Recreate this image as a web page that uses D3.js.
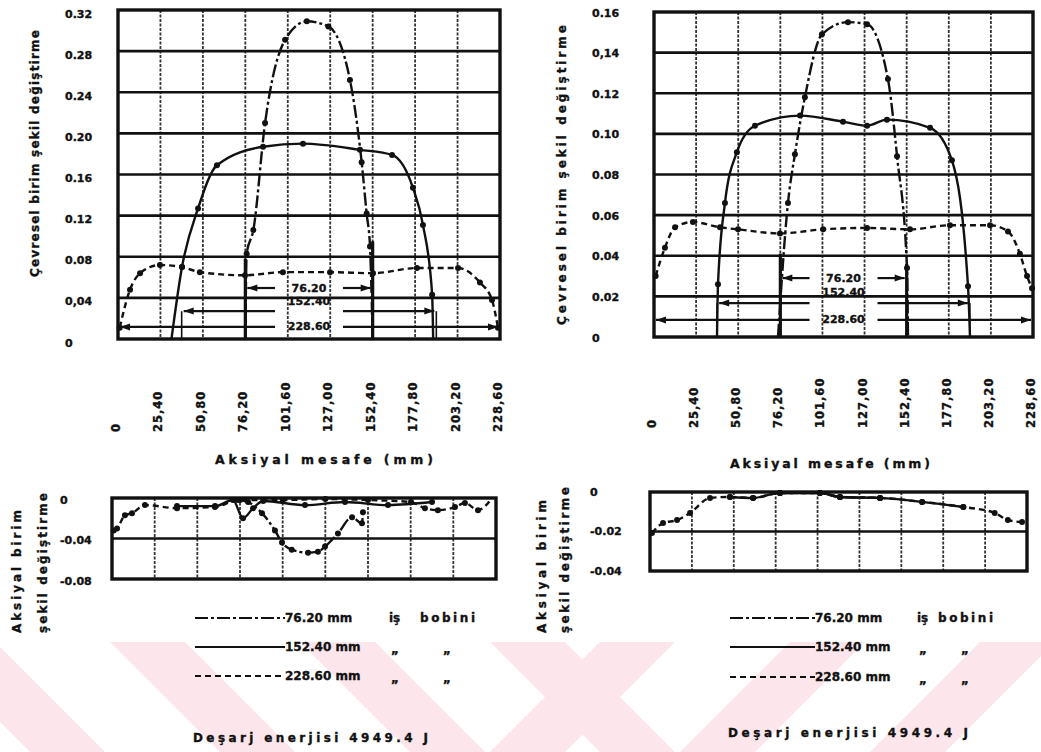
<!DOCTYPE html>
<html>
<head>
<meta charset="utf-8">
<script src="https://cdn.jsdelivr.net/npm/d3@7/dist/d3.min.js"></script>
<style>
  html, body { margin: 0; padding: 0; background: #fff; }
  svg { display: block; font-family: "DejaVu Sans", sans-serif; font-weight: bold; }
  svg text { stroke: #111; stroke-width: 0.35px; }
</style>
</head>
<body>
<svg id="chart" width="1041" height="752"></svg>
<script>
// Axial position (mm) ticks, shared by all four plots
const X_TICKS = [0, 25.4, 50.8, 76.2, 101.6, 127.0, 152.4, 177.8, 203.2, 228.6]
const X_TICK_LABELS = ["0", "25,40", "50,80", "76,20", "101,60", "127,00", "152,40", "177,80", "203,20", "228,60"]

// Work coil lengths and the span they cover along the tube
const COILS = ["76.20", "152.40", "228.60"]
const COIL_SPANS = [[76.2, 152.4], [38.1, 190.5], [0, 228.6]]

const LEFT_CIRC_TICKS = [0, 0.04, 0.08, 0.12, 0.16, 0.20, 0.24, 0.28, 0.32]
const LEFT_CIRC_LABELS = ["0", "0,04", "0.08", "0.12", "0.16", "0.20", "0.24", "0.28", "0.32"]
const RIGHT_CIRC_TICKS = [0, 0.02, 0.04, 0.06, 0.08, 0.10, 0.12, 0.14, 0.16]
const RIGHT_CIRC_LABELS = ["0", "0.02", "0.04", "0.06", "0.08", "0.10", "0.12", "0,14", "0.16"]
const LEFT_AX_TICKS = [0, -0.04, -0.08]
const LEFT_AX_LABELS = ["0", "-0.04", "-0.08"]
const RIGHT_AX_TICKS = [0, -0.02, -0.04]
const RIGHT_AX_LABELS = ["0", "-0.02", "-0.04"]

// Circumferential strain, left figure  [mm, strain]
const leftCirc76 = [[76.2, 0], [77.0, 0.083], [81.0, 0.106], [88.0, 0.21], [100.0, 0.291], [113.0, 0.309], [125.9, 0.304], [138.8, 0.252], [145.8, 0.172], [148.8, 0.122], [150.8, 0.090], [152.4, 0]]
const leftCirc152 = [[32.0, 0], [38.3, 0.070], [47.9, 0.127], [59.2, 0.169], [86.8, 0.187], [110.7, 0.190], [144.8, 0.184], [164.0, 0.179], [176.5, 0.147], [182.5, 0.111], [188.0, 0.043], [188.6, 0]]
const leftCirc228 = [[1.0, 0.011], [7.2, 0.048], [13.2, 0.064], [25.1, 0.072], [38.3, 0.070], [49.0, 0.065], [76.0, 0.062], [98.7, 0.065], [126.9, 0.065], [152.6, 0.064], [178.9, 0.069], [203.5, 0.069], [216.6, 0.055], [223.8, 0.038], [227.4, 0.011]]

// Circumferential strain, right figure
const rightCirc76 = [[74.8, 0], [80.8, 0.066], [85.0, 0.090], [91.0, 0.118], [101.3, 0.149], [117.0, 0.155], [128.5, 0.154], [141.1, 0.127], [146.6, 0.089], [152.6, 0.034], [153.2, 0]]
const rightCirc152 = [[38.0, 0], [38.6, 0.026], [42.8, 0.066], [50.0, 0.091], [60.9, 0.104], [88.1, 0.109], [114.0, 0.106], [128.5, 0.104], [140.5, 0.107], [166.5, 0.103], [179.7, 0.087], [189.4, 0.025], [190.6, 0]]
const rightCirc228 = [[1.0, 0.030], [6.6, 0.044], [12.7, 0.054], [23.5, 0.0566], [39.8, 0.054], [50.7, 0.053], [76.0, 0.051], [102.0, 0.053], [128.5, 0.0537], [154.4, 0.053], [178.5, 0.055], [202.7, 0.055], [213.5, 0.052], [220.7, 0.041], [225.0, 0.030], [228.0, 0.024]]

// Axial strain, left figure
const leftAx76 = [[76.2, -0.002], [81.0, -0.004], [89.3, -0.015], [97.0, -0.032], [101.2, -0.044], [107.0, -0.051], [116.7, -0.054], [122.6, -0.053], [126.8, -0.048], [134.5, -0.035], [142.9, -0.019], [148.8, -0.025], [149.4, -0.014]]
const leftAx152 = [[38.7, -0.008], [61.3, -0.008], [72.0, -0.002], [78.0, -0.020], [84.0, -0.010], [90.0, -0.003], [114.9, -0.007], [138.7, -0.004], [164.3, -0.007], [190.5, -0.004]]
const leftAx228 = [[1.0, -0.032], [3.0, -0.030], [7.7, -0.017], [11.9, -0.015], [19.6, -0.007], [38.7, -0.010], [61.3, -0.009], [75.0, -0.002], [101.6, -0.002], [127.0, -0.001], [152.4, -0.002], [178.0, -0.004], [186.3, -0.010], [194.0, -0.012], [204.2, -0.009], [210.1, -0.005], [217.9, -0.012], [226.2, 0]]

// Axial strain, right figure
const rightAx76 = [[78.8, -0.0005], [103.0, -0.0005], [115.2, -0.0025], [139.5, -0.003]]
const rightAx152 = [[48.5, -0.0025], [62.5, -0.003], [78.8, -0.0005], [103.0, -0.0005], [115.2, -0.0025], [139.5, -0.003], [165.0, -0.005], [190.0, -0.0076]]
const rightAx228 = [[1.2, -0.0208], [7.9, -0.0157], [16.4, -0.0142], [24.3, -0.0106], [36.4, -0.003], [48.5, -0.0025], [62.5, -0.003], [78.8, -0.0005], [103.0, -0.0005], [115.2, -0.0025], [139.5, -0.003], [165.0, -0.005], [190.0, -0.0076], [209.0, -0.0106], [217.0, -0.0142], [225.6, -0.0152]]

const DASH = { "76.20": "13 3 3 3", "152.40": null, "228.60": "6 4" }

const svg = d3.select("#chart")

// --- pale watermark stripes at the bottom of the scanned page ---
const wm = svg.append("g")
wm.append("clipPath").attr("id", "wm-clip")
  .append("rect").attr("x", 0).attr("y", 642).attr("width", 1041).attr("height", 110)
const wmg = wm.append("g").attr("clip-path", "url(#wm-clip)")
d3.range(-1, 3).forEach(i => {
  const x0 = 110 + i * 190
  wmg.append("path")
    .attr("d", `M ${x0} 642 L ${x0 + 75} 642 L ${x0 + 185} 752 L ${x0 + 110} 752 Z`)
    .attr("fill", "#fce6eb")
})
d3.range(0, 4).forEach(i => {
  const x0 = 600 + i * 190
  wmg.append("path")
    .attr("d", `M ${x0} 642 L ${x0 + 75} 642 L ${x0 - 35} 752 L ${x0 - 110} 752 Z`)
    .attr("fill", "#fce6eb")
})

function drawPlot(cfg) {
  const g = svg.append("g")
  const x = d3.scaleLinear().domain([0, 228.6]).range(cfg.xr)
  const y = d3.scaleLinear().domain(cfg.yd).range(cfg.yr)

  // vertical grid (speckled in the scan)
  g.selectAll(null).data(X_TICKS.slice(1, -1)).join("line")
    .attr("x1", d => x(d)).attr("x2", d => x(d))
    .attr("y1", cfg.yr[1]).attr("y2", cfg.yr[0])
    .attr("stroke", "#333").attr("stroke-width", 1.8)
    .attr("stroke-dasharray", "3 1.5")

  // horizontal grid
  g.selectAll(null).data(cfg.ticks.filter(t => t !== cfg.yd[0] && t !== cfg.yd[1])).join("line")
    .attr("x1", cfg.xr[0]).attr("x2", cfg.xr[1])
    .attr("y1", d => y(d)).attr("y2", d => y(d))
    .attr("stroke", "#111").attr("stroke-width", 2.6)

  // frame
  g.append("rect")
    .attr("x", cfg.xr[0]).attr("y", cfg.yr[1])
    .attr("width", cfg.xr[1] - cfg.xr[0]).attr("height", cfg.yr[0] - cfg.yr[1])
    .attr("fill", "none").attr("stroke", "#111").attr("stroke-width", 3.4)

  // y tick labels, left aligned as in the original
  g.selectAll(null).data(cfg.ticks).join("text")
    .attr("x", cfg.labelX)
    .attr("y", d => y(d) + cfg.labelDy)
    .attr("dominant-baseline", "central")
    .attr("font-size", "11px")
    .attr("fill", "#111")
    .text((d, i) => cfg.labels[i])

  if (cfg.annot) drawCoilArrows(g, x, y, cfg.annot)

  // curves
  const line = d3.line().x(d => x(d[0])).y(d => y(d[1])).curve(d3.curveMonotoneX)
  cfg.series.forEach(s => {
    g.append("path")
      .attr("d", line(s.data))
      .attr("fill", "none")
      .attr("stroke", "#111")
      .attr("stroke-width", 2.4)
      .attr("stroke-dasharray", DASH[s.coil])
    g.selectAll(null).data(s.data.filter(d => d[1] !== 0)).join("circle")
      .attr("cx", d => x(d[0])).attr("cy", d => y(d[1]))
      .attr("r", 3).attr("fill", "#111")
  })
  return { x, y }
}

function drawCoilArrows(g, x, y, a) {
  COILS.forEach((c, i) => {
    const [s, e] = COIL_SPANS[i]
    const ly = y(a.levels[i])
    const cx = x(114.3)
    const segs = [[cx - a.gap, x(s) + 2], [cx + a.gap, x(e) - 2]]
    segs.forEach(([from, to]) => {
      g.append("line")
        .attr("x1", from).attr("x2", to).attr("y1", ly).attr("y2", ly)
        .attr("stroke", "#111").attr("stroke-width", 2.2)
      const dir = to < from ? 1 : -1
      g.append("path")
        .attr("d", `M ${to} ${ly} L ${to + dir * 10} ${ly - 3.5} L ${to + dir * 10} ${ly + 3.5} Z`)
        .attr("fill", "#111")
    })
    g.append("text")
      .attr("x", cx).attr("y", y(a.labelAt[i]))
      .attr("text-anchor", "middle").attr("dominant-baseline", "central")
      .attr("font-size", "11px").attr("fill", "#111")
      .text(c)
  })
  // coil boundary markers for the two shorter coils
  a.bounds.forEach(b => {
    g.append("line")
      .attr("x1", x(b.at)).attr("x2", x(b.at))
      .attr("y1", y(0)).attr("y2", y(b.top))
      .attr("stroke", "#111").attr("stroke-width", b.w)
  })
}

function xLabels(cfg, x) {
  const g = svg.append("g")
  g.selectAll(null).data(X_TICKS).join("text")
    .attr("transform", (d, i) => `translate(${x(d) - 2},${cfg.base}) rotate(-90)`)
    .attr("dominant-baseline", "central")
    .attr("font-size", "11.5px")
    .attr("letter-spacing", "1px")
    .attr("fill", "#111")
    .text((d, i) => X_TICK_LABELS[i])
  g.append("text")
    .attr("x", cfg.titleX[0]).attr("y", cfg.titleY)
    .attr("textLength", cfg.titleX[1] - cfg.titleX[0])
    .attr("lengthAdjust", "spacing")
    .attr("font-size", "12.5px").attr("fill", "#111")
    .text("Aksiyal  mesafe  (mm)")
}

function vTitle(xc, yBottom, len, txt, size) {
  svg.append("text")
    .attr("transform", `translate(${xc},${yBottom}) rotate(-90)`)
    .attr("dominant-baseline", "central")
    .attr("textLength", len).attr("lengthAdjust", "spacing")
    .attr("font-size", size).attr("fill", "#111")
    .text(txt)
}

function legend(lx, tx, rows, ditto, energy) {
  const g = svg.append("g")
  COILS.forEach((c, i) => {
    const ly = rows[i]
    g.append("line")
      .attr("x1", lx[0]).attr("x2", lx[1]).attr("y1", ly).attr("y2", ly)
      .attr("stroke", "#111").attr("stroke-width", 2.2)
      .attr("stroke-dasharray", DASH[c])
    g.append("text")
      .attr("x", tx).attr("y", ly).attr("dominant-baseline", "central")
      .attr("font-size", "12px").attr("fill", "#111")
      .text(c + " mm")
    if (i === 0) {
      g.append("text")
        .attr("x", ditto[0] - 6).attr("y", ly).attr("dominant-baseline", "central")
        .attr("font-size", "12px").attr("fill", "#111").text("iş")
      g.append("text")
        .attr("x", ditto[2]).attr("y", ly).attr("dominant-baseline", "central")
        .attr("textLength", ditto[3]).attr("lengthAdjust", "spacing")
        .attr("font-size", "12px").attr("fill", "#111").text("bobini")
    } else {
      [ditto[0], ditto[1]].forEach(dx => {
        g.append("text")
          .attr("x", dx).attr("y", ly + 2).attr("text-anchor", "middle")
          .attr("dominant-baseline", "central")
          .attr("font-size", "12px").attr("fill", "#111").text("„")
      })
    }
  })
  g.append("text")
    .attr("x", energy[0]).attr("y", energy[2])
    .attr("textLength", energy[1] - energy[0]).attr("lengthAdjust", "spacing")
    .attr("dominant-baseline", "central")
    .attr("font-size", "12px").attr("fill", "#111")
    .text("Deşarj  enerjisi  4949.4  J")
}

// ---------- left figure ----------
const lt = drawPlot({
  xr: [118, 500], yd: [0, 0.32], yr: [339, 10],
  ticks: LEFT_CIRC_TICKS, labels: LEFT_CIRC_LABELS, labelX: 65, labelDy: 4,
  annot: {
    levels: [0.0496, 0.0272, 0.0117], labelAt: [0.0496, 0.036, 0.0117], gap: 34,
    bounds: [{ at: 76.2, top: 0.078, w: 3.2 }, { at: 152.4, top: 0.095, w: 3.2 },
             { at: 38.1, top: 0.027, w: 1.6 }, { at: 190.5, top: 0.027, w: 1.6 }]
  },
  series: [
    { coil: "228.60", data: leftCirc228 },
    { coil: "152.40", data: leftCirc152 },
    { coil: "76.20", data: leftCirc76 }
  ]
})
xLabels({ base: 432, titleX: [215, 433], titleY: 464 }, lt.x)
vTitle(35, 277, 247, "Çevresel  birim  şekil  değiştirme", "12px")

drawPlot({
  xr: [112, 496], yd: [-0.08, 0], yr: [579, 498],
  ticks: LEFT_AX_TICKS, labels: LEFT_AX_LABELS, labelX: 60, labelDy: 2,
  series: [
    { coil: "228.60", data: leftAx228 },
    { coil: "152.40", data: leftAx152 },
    { coil: "76.20", data: leftAx76 }
  ]
})
vTitle(17, 633, 123, "Aksiyal  birim", "12px")
vTitle(43, 633, 140, "şekil  değiştirme", "12px")
legend([195, 285], 285, [618, 647, 676], [395, 447, 420, 55], [193, 428, 738])

// ---------- right figure ----------
const rt = drawPlot({
  xr: [654, 1033], yd: [0, 0.16], yr: [337, 12],
  ticks: RIGHT_CIRC_TICKS, labels: RIGHT_CIRC_LABELS, labelX: 592, labelDy: 1,
  annot: {
    levels: [0.029, 0.0167, 0.0084], labelAt: [0.029, 0.0217, 0.0084], gap: 34,
    bounds: [{ at: 76.2, top: 0.041, w: 3.2 }, { at: 152.4, top: 0.036, w: 3.2 },
             { at: 38.1, top: 0.0167, w: 1.6 }, { at: 190.5, top: 0.0167, w: 1.6 }]
  },
  series: [
    { coil: "228.60", data: rightCirc228 },
    { coil: "152.40", data: rightCirc152 },
    { coil: "76.20", data: rightCirc76 }
  ]
})
xLabels({ base: 428, titleX: [730, 930], titleY: 468 }, rt.x)
vTitle(562, 325, 300, "Çevresel  birim  şekil  değiştirme", "12px")

drawPlot({
  xr: [650, 1027], yd: [-0.04, 0], yr: [571, 492],
  ticks: RIGHT_AX_TICKS, labels: RIGHT_AX_LABELS, labelX: 590, labelDy: 0,
  series: [
    { coil: "228.60", data: rightAx228 },
    { coil: "152.40", data: rightAx152 },
    { coil: "76.20", data: rightAx76 }
  ]
})
vTitle(542, 633, 133, "Aksiyal  birim", "12px")
vTitle(565, 633, 146, "şekil  değiştirme", "12px")
legend([730, 815], 815, [618, 647, 677], [923, 965, 938, 55], [728, 968, 733])
</script>
</body>
</html>
